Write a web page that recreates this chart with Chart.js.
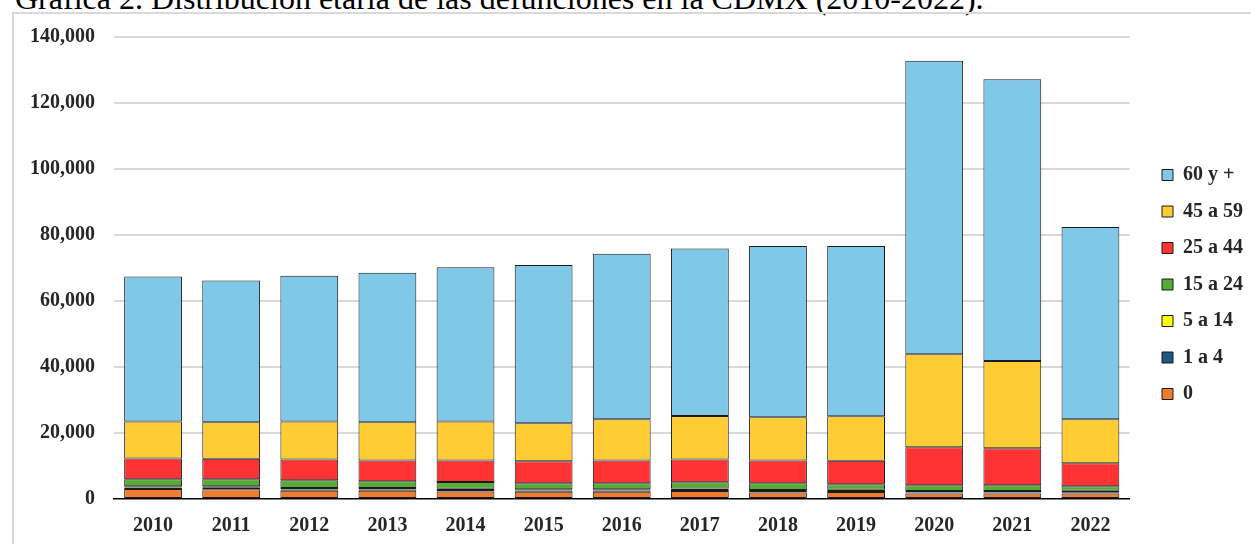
<!DOCTYPE html>
<html lang="es">
<head>
<meta charset="utf-8">
<script src="https://cdn.jsdelivr.net/npm/chart.js@4.4.1/dist/chart.umd.min.js"></script>
<style>
  html, body { margin: 0; padding: 0; background: #fff; overflow: hidden; }
  body { width: 1251px; height: 544px; position: relative; }
  #titulo { position: absolute; left: 15px; top: -18px; font: 32px/32px "Liberation Serif", "Times New Roman", serif; color: #000; white-space: nowrap; }
  #marco { position: absolute; left: 12px; top: 12px; width: 1300px; height: 600px; border: 2px solid #d9d9d9; }
  #lienzo { position: absolute; left: 0; top: 0; width: 1251px; height: 544px; }
</style>
</head>
<body>
<div id="titulo">Gráfica 2. Distribución etaria de las defunciones en la CDMX (2010-2022).</div>
<div id="marco"></div>
<div id="lienzo"><canvas id="graficoDefunciones"></canvas></div>
<script>
const years = ["2010", "2011", "2012", "2013", "2014", "2015", "2016", "2017", "2018", "2019", "2020", "2021", "2022"];

const age0 = [3000, 2950, 2500, 2500, 2300, 2200, 2200, 2400, 2000, 2100, 1700, 1700, 1700];
const age1to4 = [450, 450, 400, 400, 400, 380, 350, 350, 400, 350, 300, 300, 350];
const age5to14 = [450, 450, 450, 450, 400, 400, 400, 400, 350, 350, 400, 400, 450];
const age15to24 = [2100, 2100, 2300, 2000, 2050, 1800, 1800, 1900, 2000, 1650, 1750, 1750, 1350];
const age25to44 = [6300, 6250, 6330, 6340, 6550, 6650, 6950, 6940, 6950, 7150, 11500, 11200, 6950];
const age45to59 = [11200, 11050, 11500, 11550, 11800, 11500, 12450, 13150, 13050, 13450, 28250, 26450, 13350];
const age60plus = [43900, 42950, 44200, 45350, 46700, 48000, 50150, 50750, 51950, 51650, 88900, 85400, 58250];

const yTicks = [0, 20000, 40000, 60000, 80000, 100000, 120000, 140000];

const textColor = "#262626";
const boldFont = { family: "'Liberation Serif', 'Times New Roman', serif", size: 20, weight: "bold" };

const makeDataset = (label, data, color) => ({
  label: label,
  data: data,
  backgroundColor: color,
  borderColor: "#1a1a1a",
  borderWidth: 1,
  borderSkipped: false,
});

// moves the legend a bit right and up, like in the original figure
const moveLegend = {
  id: "moveLegend",
  afterLayout(chart) {
    const legend = chart.legend;
    legend.left += 16;
    legend.right += 16;
    legend.top -= 3;
    legend.bottom -= 3;
  },
};

const chartDeaths = document.getElementById("graficoDefunciones");

const graphicDeaths = new Chart(chartDeaths, {
  type: "bar",
  data: {
    labels: years,
    datasets: [
      makeDataset("0", age0, "#ED7D31"),
      makeDataset("1 a 4", age1to4, "#1D5A80"),
      makeDataset("5 a 14", age5to14, "#FFFF00"),
      makeDataset("15 a 24", age15to24, "#55AB35"),
      makeDataset("25 a 44", age25to44, "#FF3334"),
      makeDataset("45 a 59", age45to59, "#FFCC33"),
      makeDataset("60 y +", age60plus, "#7FC8E8"),
    ],
  },
  options: {
    responsive: true,
    maintainAspectRatio: false,
    animation: false,
    devicePixelRatio: 1,
    layout: { padding: { left: 0, top: 37, right: 14, bottom: 6 } },
    datasets: { bar: { categoryPercentage: 1, barPercentage: 0.74 } },
    plugins: {
      tooltip: { enabled: false },
      legend: {
        position: "right",
        reverse: true,
        labels: {
          boxWidth: 11,
          boxHeight: 11,
          padding: 16.5,
          color: textColor,
          font: boldFont,
        },
      },
    },
    scales: {
      x: {
        stacked: true,
        afterFit: (scale) => {
          scale.height = 39;
        },
        grid: { display: false, drawTicks: false },
        border: { display: true, color: "#000", width: 1.5 },
        ticks: { color: textColor, font: boldFont, padding: 15 },
      },
      y: {
        stacked: true,
        min: 0,
        max: 140000,
        afterFit: (scale) => {
          scale.width = 114;
        },
        afterBuildTicks: (scale) => {
          scale.ticks = yTicks.map((v) => ({ value: v }));
        },
        grid: {
          drawTicks: false,
          lineWidth: 2,
          color: (ctx) => (ctx.tick && ctx.tick.value === 0 ? "rgba(0,0,0,0)" : "#d9d9d9"),
        },
        border: { display: false },
        ticks: {
          color: textColor,
          font: boldFont,
          padding: 19,
          callback: (value) => value.toLocaleString("en-US"),
        },
      },
    },
  },
  plugins: [moveLegend],
});
</script>
</body>
</html>
